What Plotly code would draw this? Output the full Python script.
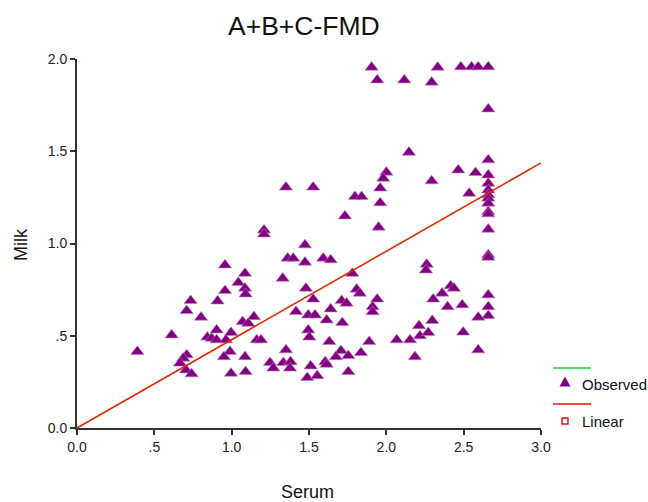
import plotly.graph_objects as go

# ---- data ----
serum = [
    1.905, 2.332, 2.482, 2.551, 2.594, 2.659,
    1.941, 2.116, 2.293,
    2.659, 2.659, 2.659, 2.659, 2.659, 2.659, 2.659, 2.659,
    2.659, 2.659, 2.659, 2.659, 2.659, 2.659, 2.659, 2.659,
    2.146, 2.293, 2.465, 2.577, 2.536,
    2.00, 1.98, 1.96, 1.96, 1.95,
    1.474, 1.474, 1.592, 1.640, 1.780, 1.480, 1.808, 1.829, 1.527, 1.711,
    1.743, 1.941, 1.911, 1.911, 1.495, 1.539, 1.640, 1.614, 1.715, 1.495,
    1.502, 1.631, 1.889, 1.707, 1.754, 1.836, 1.674, 1.605, 1.614, 1.511,
    1.754, 1.489, 1.553,
    2.067, 2.153, 2.217, 2.185, 2.271, 2.211, 2.297, 2.303, 2.361, 2.416,
    2.437, 2.396, 2.491, 2.497, 2.594, 2.594, 2.261, 2.256,
    1.351, 1.527, 1.209, 1.209, 1.362, 1.398, 1.732, 1.797, 1.840,
    1.330, 1.416, 1.144, 1.162, 1.190, 1.351, 1.248, 1.334, 1.381, 1.269, 1.377,
    0.957, 1.086, 1.043, 1.086, 1.090, 0.957, 0.909, 0.735, 0.709, 0.802,
    0.612, 0.390, 1.071, 1.107, 0.843, 0.871, 0.903, 0.996, 0.903, 0.963,
    0.989, 0.950, 0.709, 0.687, 0.666, 0.705, 0.741, 0.996, 1.086, 1.090,
]
milk = [
    1.955, 1.955, 1.957, 1.957, 1.957, 1.957,
    1.886, 1.886, 1.874,
    1.729, 1.453, 1.371, 1.326, 1.290, 1.263, 1.245, 1.218,
    1.172, 1.160, 1.077, 0.938, 0.925, 0.721, 0.657, 0.609,
    1.494, 1.339, 1.398, 1.384, 1.272,
    1.386, 1.353, 1.300, 1.220, 1.088,
    0.992, 0.898, 0.920, 0.911, 0.838, 0.757, 0.752, 0.730, 0.698, 0.690,
    0.676, 0.698, 0.657, 0.630, 0.612, 0.612, 0.645, 0.585, 0.571, 0.531,
    0.492, 0.468, 0.468, 0.419, 0.392, 0.408, 0.386, 0.359, 0.345, 0.336,
    0.305, 0.273, 0.283,
    0.477, 0.477, 0.499, 0.386, 0.517, 0.554, 0.582, 0.698, 0.730, 0.770,
    0.757, 0.657, 0.667, 0.519, 0.600, 0.423, 0.887, 0.856,
    1.305, 1.305, 1.073, 1.051, 0.920, 0.920, 1.149, 1.254, 1.254,
    0.811, 0.631, 0.603, 0.477, 0.477, 0.423, 0.354, 0.354, 0.359, 0.324, 0.324,
    0.883, 0.838, 0.788, 0.757, 0.726, 0.744, 0.688, 0.690, 0.636, 0.600,
    0.504, 0.414, 0.576, 0.567, 0.492, 0.486, 0.531, 0.517, 0.477, 0.477,
    0.414, 0.386, 0.396, 0.378, 0.351, 0.314, 0.293, 0.296, 0.386, 0.305,
]
linear_x = [0.0, 3.0]
linear_slope = 0.479

x_ticks = [0, 0.5, 1.0, 1.5, 2.0, 2.5, 3.0]
x_ticklabels = ["0.0", ".5", "1.0", "1.5", "2.0", "2.5", "3.0"]
y_ticks = [0, 0.5, 1.0, 1.5, 2.0]
y_ticklabels = ["0.0", ".5", "1.0", "1.5", "2.0"]

FONT = "Liberation Sans, Arial, sans-serif"
PURPLE = "#800080"
RED = "#e02a00"

fig = go.Figure()
fig.add_trace(go.Scatter(
    x=serum, y=milk, mode="markers", name="Observed",
    marker=dict(symbol="triangle-up", size=11.5, color=PURPLE,
                line=dict(width=0.6, color="#c080c0")),
    cliponaxis=False,
))
fig.add_trace(go.Scatter(
    x=linear_x, y=[linear_slope * v for v in linear_x], mode="lines",
    name="Linear", line=dict(color=RED, width=1.6),
))

axis_common = dict(
    showgrid=False, zeroline=False, showline=True, linecolor="#333333",
    linewidth=2, ticks="outside", ticklen=5, tickwidth=1.5, tickcolor="#333333",
    tickfont=dict(family=FONT, size=14, color="#222222"),
)
fig.update_xaxes(range=[0, 3.0], tickvals=x_ticks, ticktext=x_ticklabels, **axis_common)
fig.update_yaxes(range=[0, 2.0], tickvals=y_ticks, ticktext=y_ticklabels, **axis_common)

# body margin is removed by post_script, so the figure fills the 648x502 window
W, H = 648, 502
L, T = 77, 59
pw, ph = 464, 369
R, B = W - L - pw, H - T - ph


def px(xp):
    return (xp - L) / pw


def py(yp):
    return (T + ph - yp) / ph


annotations = [
    dict(text="A+B+C-FMD", x=px(303.5), y=py(26), xref="paper", yref="paper",
         showarrow=False, font=dict(family=FONT, size=26.5, color="#111111"),
         xanchor="center", yanchor="middle"),
    dict(text="Serum", x=px(307.5), y=py(492), xref="paper", yref="paper",
         showarrow=False, font=dict(family=FONT, size=18, color="#111111"),
         xanchor="center", yanchor="middle"),
    dict(text="Milk", x=px(21), y=py(245), xref="paper", yref="paper",
         showarrow=False, textangle=-90, font=dict(family=FONT, size=18, color="#111111"),
         xanchor="center", yanchor="middle"),
    dict(text="Observed", x=px(580), y=py(384), xref="paper", yref="paper",
         showarrow=False, font=dict(family=FONT, size=15, color="#111111"),
         xanchor="left", yanchor="middle"),
    dict(text="Linear", x=px(580), y=py(421), xref="paper", yref="paper",
         showarrow=False, font=dict(family=FONT, size=15, color="#111111"),
         xanchor="left", yanchor="middle"),
]

shapes = [
    dict(type="line", xref="paper", yref="paper", x0=px(553), x1=px(591),
         y0=py(368), y1=py(368), line=dict(color="#22cc22", width=1.3)),
    dict(type="line", xref="paper", yref="paper", x0=px(553), x1=px(591),
         y0=py(404), y1=py(404), line=dict(color="#ee1111", width=1.4)),
    dict(type="path", xref="paper", yref="paper", xsizemode="pixel", ysizemode="pixel",
         xanchor=px(565), yanchor=py(382), path="M -5.5 -4.5 L 5.5 -4.5 L 0 5.5 Z",
         fillcolor=PURPLE, line=dict(width=0)),
    dict(type="rect", xref="paper", yref="paper", xsizemode="pixel", ysizemode="pixel",
         xanchor=px(565), yanchor=py(421), x0=-3, x1=3, y0=-3, y1=3,
         fillcolor="white", line=dict(color="#ee1111", width=1.5)),
]

fig.update_layout(
    width=W, height=H, margin=dict(l=L, r=R, t=T, b=B),
    paper_bgcolor="white", plot_bgcolor="white", showlegend=False,
    annotations=annotations, shapes=shapes,
    font=dict(family=FONT),
)

fig.write_html(
    "out.html",
    config={"displayModeBar": False},
    post_script="document.body.style.margin='0';document.body.style.overflow='hidden';",
)
